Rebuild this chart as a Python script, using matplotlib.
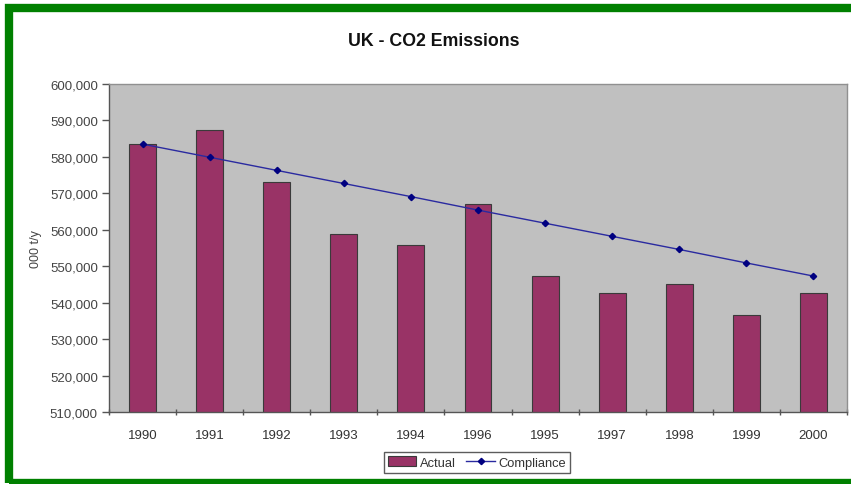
import matplotlib
matplotlib.use("Agg")
import matplotlib.pyplot as plt
from matplotlib.patches import Rectangle
from matplotlib.lines import Line2D
from matplotlib.ticker import FuncFormatter, FixedLocator
import numpy as np

plt.rcParams['font.family'] = ['Liberation Sans', 'DejaVu Sans']

years = ["1990", "1991", "1992", "1993", "1994", "1996", "1995", "1997", "1998", "1999", "2000"]
actual = [583500, 587300, 573000, 558800, 555800, 567100, 547200, 542600, 545100, 536500, 542600]
compliance = [583500, 579900, 576300, 572700, 569100, 565400, 561800, 558200, 554600, 550900, 547300]

W, H = 851, 485
fig = plt.figure(figsize=(W / 100, H / 100), dpi=100)
fig.patch.set_facecolor("white")

# green frame
fig.patches.append(Rectangle((8.5 / W, 1 - 484 / H), (856 - 8.5) / W, (484 - 9) / H,
                             transform=fig.transFigure, fill=False,
                             edgecolor="#008000", linewidth=6.0))

ax = fig.add_axes([109 / W, (H - 413) / H, (847 - 109) / W, (413 - 85) / H])
ax.set_facecolor("#C0C0C0")

x = np.arange(len(years))
ax.bar(x, actual, width=0.4, color="#993366", edgecolor="#3a3a3a", linewidth=0.8,
       zorder=2, label="Actual")
ax.plot(x, compliance, color="#2a2aa0", linewidth=1.0, marker="D", markersize=3.2,
        markerfacecolor="#000080", markeredgecolor="#000080", zorder=3, label="Compliance")

ax.set_xlim(-0.5, len(years) - 0.5)
ax.set_ylim(510000, 600000)
ax.set_yticks(np.arange(510000, 600001, 10000))
ax.yaxis.set_major_formatter(FuncFormatter(lambda v, p: f"{int(v):,}"))
ax.set_xticks(x)
ax.set_xticklabels(years)
ax.xaxis.set_minor_locator(FixedLocator(np.arange(-0.5, len(years), 1.0)))
ax.tick_params(axis="x", which="major", length=0, pad=12, labelsize=9.5, colors="#333333")
ax.tick_params(axis="x", which="minor", length=5, direction="inout", color="#555555", width=1)
ax.tick_params(axis="y", length=5, direction="out", color="#555555", width=1,
               labelsize=9.5, labelcolor="#444444", pad=3)

for s in ["top", "right"]:
    ax.spines[s].set_color("#909090")
    ax.spines[s].set_linewidth(1.0)
for s in ["left", "bottom"]:
    ax.spines[s].set_color("#555555")
    ax.spines[s].set_linewidth(1.0)

ax.set_ylabel("000 t/y", fontsize=9, color="#444444", labelpad=6)
fig.text(434 / W, 1 - 42 / H, "UK - CO2 Emissions", ha="center", va="center",
         fontsize=12.8, fontweight="bold", color="#111111")

leg = fig.legend(handles=[
    Rectangle((0, 0), 1, 1, facecolor="#993366", edgecolor="#3a3a3a", linewidth=0.8),
    Line2D([0], [0], color="#2a2aa0", linewidth=1.0, marker="D", markersize=3.2,
           markerfacecolor="#000080", markeredgecolor="#000080")],
    labels=["Actual", "Compliance"], loc="center", bbox_to_anchor=(477 / W, 1 - 463.5 / H),
    ncol=2, frameon=True, fontsize=9.3, fancybox=False, borderpad=0.3, handlelength=2.2,
    handletextpad=0.3, columnspacing=0.8, handleheight=0.8)
leg.get_frame().set_edgecolor("#333333")
leg.get_frame().set_linewidth(1.0)
for t in leg.get_texts():
    t.set_color("#333333")

fig.savefig("out.png", dpi=100)
